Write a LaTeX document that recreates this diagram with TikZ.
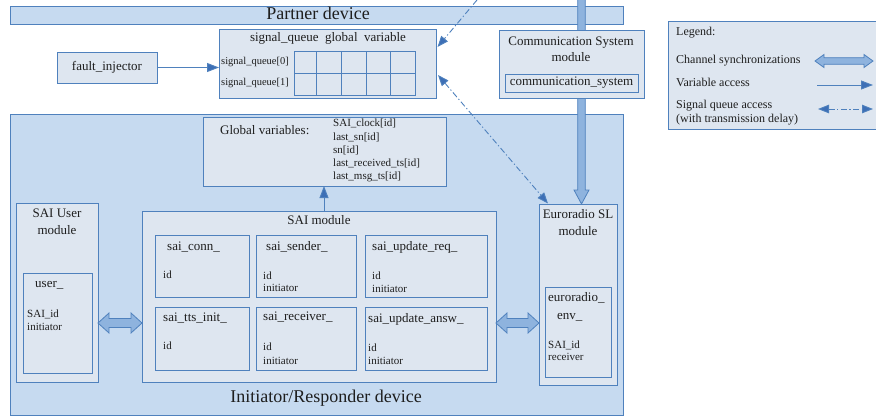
\documentclass[tikz,border=0pt]{standalone}
\usepackage{fontspec}
\setmainfont{Liberation Serif}
\usetikzlibrary{arrows.meta,calc}
\definecolor{outerfill}{HTML}{C6DAF0}
\definecolor{innerfill}{HTML}{DEE6F0}
\definecolor{bordc}{HTML}{4F81BD}
\definecolor{fatfill}{HTML}{8EB3DE}
\definecolor{arrc}{HTML}{3D6FB6}
\definecolor{txt}{HTML}{1E1E1E}
\newcommand\mkbox[6]{\node[#2, anchor=north west, minimum width={(#5-#3)*1pt}, minimum height={(#6-#4)*1pt}] (#1) at (#3,#4) {};}
\tikzset{
  obox/.style={draw=bordc, fill=outerfill, line width=0.9pt, inner sep=0pt, outer sep=0pt},
  ibox/.style={draw=bordc, fill=innerfill, line width=0.9pt, inner sep=0pt, outer sep=0pt},
  big/.style={text=txt, inner sep=0pt, font=\fontsize{18}{21}\selectfont, text height=12.6pt, text depth=4.5pt},
  med/.style={text=txt, inner sep=0pt, font=\fontsize{13}{15}\selectfont, text height=9.1pt, text depth=3.25pt},
  sml/.style={text=txt, inner sep=0pt, font=\fontsize{11}{13}\selectfont, text height=7.7pt, text depth=2.75pt},
  tny/.style={text=txt, inner sep=0pt, font=\fontsize{10.5}{12}\selectfont, text height=7.35pt, text depth=2.6pt},
  leg/.style={text=txt, inner sep=0pt, font=\fontsize{12}{14}\selectfont, text height=8.4pt, text depth=3pt},
  fatarr/.style={draw=bordc, fill=fatfill, line width=0.8pt, line join=miter},
  varacc/.style={draw=bordc, line width=0.9pt, -{Triangle[length=12pt,width=9pt,fill=arrc]}},
  sqacc/.style={draw=bordc, line width=0.9pt, dash pattern=on 6pt off 2.5pt on 1.2pt off 2.5pt, -{Triangle[length=11pt,width=8.5pt,fill=arrc]}},
  sqacc2/.style={draw=bordc, line width=0.9pt, dash pattern=on 6pt off 2.5pt on 1.2pt off 2.5pt, {Triangle[length=11pt,width=8.5pt,fill=arrc]}-{Triangle[length=11pt,width=8.5pt,fill=arrc]}},
  gridln/.style={draw=bordc, line width=0.9pt}
}
\newcommand\fatdouble[5]{%
  \draw[fatarr] let \p1=#1, \p2=#2 in
    (\x1,\y1) -- (\x1+#5pt,\y1+#4pt) -- (\x1+#5pt,\y1+#3pt) -- (\x2-#5pt,\y2+#3pt) -- (\x2-#5pt,\y2+#4pt) -- (\x2,\y2)
    -- (\x2-#5pt,\y2-#4pt) -- (\x2-#5pt,\y2-#3pt) -- (\x1+#5pt,\y1-#3pt) -- (\x1+#5pt,\y1-#4pt) -- cycle;}
\begin{document}
\begin{tikzpicture}[x=1pt,y=-1pt]
\useasboundingbox (0,0) rectangle (876,418);
% outer areas
\mkbox{partner}{obox}{10}{6}{623}{24}
\node[big] (partnertxt) at (318,15) {Partner device};
\mkbox{initr}{obox}{10}{114}{623}{415}
\mkbox{legend}{ibox}{668}{21}{880}{129}
% channel synchronization from partner to Euroradio
\coordinate (ptop) at (581.5,-2);
\mkbox{euro}{ibox}{539}{204}{617}{385}
\draw[fatarr] let \p1=(ptop), \p2=(euro.north -| ptop) in
  (\x1-3.8pt,\y1) -- (\x2-3.8pt,\y2+14pt) -- (\x2-7.5pt,\y2+14pt) -- (\x2,\y2) -- (\x2+7.5pt,\y2+14pt) -- (\x2+3.8pt,\y2+14pt) -- (\x1+3.8pt,\y1) -- cycle;
% communication system
\mkbox{comm}{ibox}{499}{30}{644}{98}
\node[med] (commt1) at (571,43) {Communication System};
\node[med] (commt2) at (571,59) {module};
\mkbox{commin}{ibox}{505}{74}{638}{92}
\node[med] (commintxt) at (commin.center) {communication\_system};
% fault injector and signal queue
\mkbox{fault}{ibox}{57}{52}{157}{83}
\node[med] (faulttxt) at (fault.center) {fault\_injector};
\mkbox{sq}{ibox}{219}{29}{436}{98}
\node[med] (sqtxt) at (328,39) {signal\_queue\ \ global\ \ variable};
\node[tny, anchor=west] (sq0) at (221,62) {signal\_queue[0]};
\node[tny, anchor=west] (sq1) at (221,83) {signal\_queue[1]};
\mkbox{sqgrid}{ibox}{294}{51}{415}{95}
\draw[gridln] (sqgrid.west) -- (sqgrid.east);
\foreach \gx in {316,341,366,390} { \draw[gridln] (\gx,51) -- (\gx,95); }
\draw[varacc] (fault.east) -- (fault.east -| sq.west);
% legend
\node[leg, anchor=west] (lg0) at (676,33) {Legend:};
\node[leg, anchor=west] (lg1) at (676,61) {Channel synchronizations};
\node[leg, anchor=west] (lg2) at (676,84) {Variable access};
\node[leg, anchor=west] (lg3) at (676,106) {Signal queue access};
\node[leg, anchor=west] (lg4) at (676,120) {(with transmission delay)};
\coordinate (la1) at (815,61); \coordinate (lb1) at (873,61);
\fatdouble{(la1)}{(lb1)}{3.3}{6.5}{9}
\coordinate (la2) at (817,85); \coordinate (lb2) at (873,85);
\draw[varacc] (la2) -- (lb2);
\coordinate (la3) at (818,109); \coordinate (lb3) at (873,109);
\draw[sqacc2] (la3) -- (lb3);
% initiator/responder device
\node[big] (inittxt) at (326,398) {Initiator/Responder device};
\mkbox{glob}{ibox}{203}{117}{446}{186}
\node[med, anchor=west] (globtxt) at (220,132) {Global variables:};
\node[sml, anchor=west] (g1) at (333,124) {SAI\_clock[id]};
\node[sml, anchor=west] (g2) at (333,138) {last\_sn[id]};
\node[sml, anchor=west] (g3) at (333,151) {sn[id]};
\node[sml, anchor=west] (g4) at (333,164) {last\_received\_ts[id]};
\node[sml, anchor=west] (g5) at (333,177) {last\_msg\_ts[id]};
% SAI user module
\mkbox{usermod}{ibox}{16}{203}{98}{382}
\node[med] (usert1) at (57,215) {SAI User};
\node[med] (usert2) at (57,232) {module};
\mkbox{userin}{ibox}{23}{273}{92}{373}
\node[med, anchor=west] (usert3) at (35,285) {user\_};
\node[sml, anchor=west] (usert4) at (27,315) {SAI\_id};
\node[sml, anchor=west] (usert5) at (27,328) {initiator};
% SAI module
\mkbox{saimod}{ibox}{142}{211}{496}{382}
\node[med] (saitxt) at (319,222) {SAI module};
\mkbox{conn}{ibox}{155}{235}{249}{297}
\node[med, anchor=west] (conn1) at (167,248) {sai\_conn\_};
\node[sml, anchor=west] (conn2) at (163,276) {id};
\mkbox{sender}{ibox}{256}{235}{356}{297}
\node[med, anchor=west] (send1) at (266,248) {sai\_sender\_};
\node[sml, anchor=west] (send2) at (263,277) {id};
\node[sml, anchor=west] (send3) at (263,289) {initiator};
\mkbox{upreq}{ibox}{365}{235}{487}{297}
\node[med, anchor=west] (upr1) at (372,248) {sai\_update\_req\_};
\node[sml, anchor=west] (upr2) at (372,277) {id};
\node[sml, anchor=west] (upr3) at (372,290) {initiator};
\mkbox{tts}{ibox}{155}{307}{249}{370}
\node[med, anchor=west] (tts1) at (163,319) {sai\_tts\_init\_};
\node[sml, anchor=west] (tts2) at (163,347) {id};
\mkbox{recv}{ibox}{256}{307}{356}{370}
\node[med, anchor=west] (recv1) at (263,318) {sai\_receiver\_};
\node[sml, anchor=west] (recv2) at (263,348) {id};
\node[sml, anchor=west] (recv3) at (263,362) {initiator};
\mkbox{upansw}{ibox}{365}{307}{487}{370}
\node[med, anchor=west] (upa1) at (368,320) {sai\_update\_answ\_};
\node[sml, anchor=west] (upa2) at (368,349) {id};
\node[sml, anchor=west] (upa3) at (368,362) {initiator};
% Euroradio SL module
\node[med] (eurot1) at (578,216) {Euroradio SL};
\node[med] (eurot2) at (578,233) {module};
\mkbox{euroin}{ibox}{545}{287}{611}{377}
\node[med, anchor=west] (eurot3) at (548,299) {euroradio\_};
\node[med, anchor=west] (eurot4) at (557,317) {env\_};
\node[sml, anchor=west] (eurot5) at (548,346) {SAI\_id};
\node[sml, anchor=west] (eurot6) at (548,358) {receiver};
% connectors
\coordinate (gx) at (324,0);
\draw[varacc] (gx |- saimod.north) -- (gx |- glob.south);
\coordinate (ly) at (0,323);
\fatdouble{(usermod.east |- ly)}{(saimod.west |- ly)}{4.5}{10}{11}
\fatdouble{(saimod.east |- ly)}{(euro.west |- ly)}{4.5}{10}{11}
\coordinate (pfree) at (477,0);
\draw[sqacc] (pfree) -- ($(sq.north east)+(1.5,18)$);
\draw[sqacc2] ($(sq.north east)+(2,46)$) -- ($(euro.north west)+(9,-0.5)$);
\end{tikzpicture}
\end{document}
